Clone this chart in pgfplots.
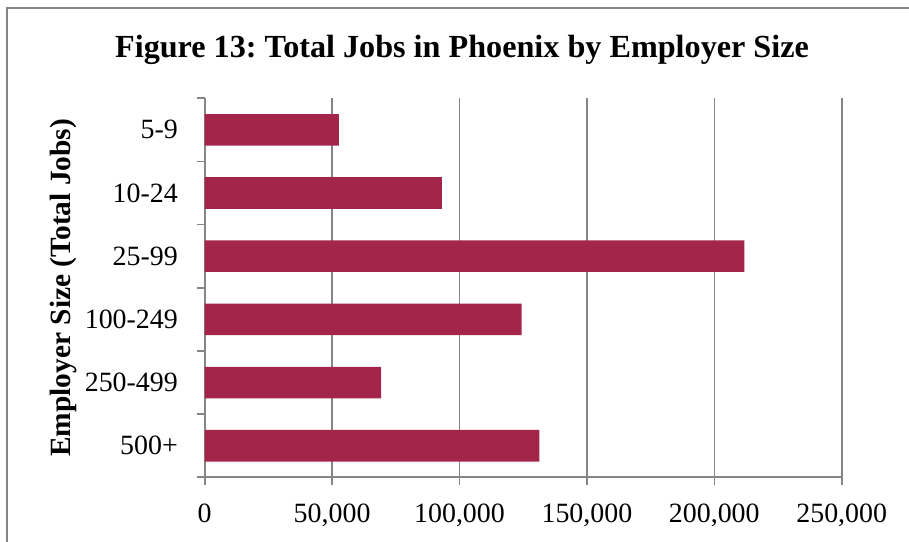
\documentclass[border=0pt]{standalone}
\usepackage{pgfplots}
\pgfplotsset{compat=1.18}
\usepackage{fontspec}
\setmainfont{Liberation Serif}
\definecolor{barc}{RGB}{163,38,74}
\definecolor{gridc}{RGB}{134,134,134}
\frenchspacing
\begin{document}
\begin{tikzpicture}[x=1bp,y=1bp]
\useasboundingbox (0,0) rectangle (909,542);
\draw[gridc, line width=1.5bp] (7,0) -- (7,534) -- (909,534);
\node[font=\fontsize{32.3}{38}\selectfont\bfseries, anchor=base] at (462,484.7) {Figure 13: Total Jobs in Phoenix by Employer Size};
\begin{axis}[
  at={(204.7bp,64.7bp)}, anchor=south west,
  width=637bp, height=379bp, scale only axis,
  xbar, bar width=0.5,
  xmin=0, xmax=250000, ymin=-0.5, ymax=5.5,
  xtick={0,50000,100000,150000,200000,250000},
  xticklabels={0,{50,000},{100,000},{150,000},{200,000},{250,000}},
  ytick={0,1,2,3,4,5},
  yticklabels={500+,250-499,100-249,25-99,10-24,5-9},
  minor ytick={-0.5,0.5,1.5,2.5,3.5,4.5,5.5},
  xmajorgrids, grid style={gridc, line width=1.6bp},
  axis x line*=bottom, axis y line*=left,
  axis line style={gridc, line width=1.6bp, -},
  x axis line style={-}, y axis line style={-},
  tick align=outside,
  major tick length=8bp, minor tick length=8bp,
  every major y tick/.append style={draw=none},
  every minor y tick/.append style={gridc, line width=1.6bp},
  every major x tick/.append style={gridc, line width=1.6bp},
  scaled x ticks=false,
  tick label style={font=\fontsize{28}{33}\selectfont},
  xticklabel style={inner sep=0pt, yshift=-18bp},
  yticklabel style={inner sep=0pt, xshift=-18.7bp},
  ylabel={Employer Size (Total Jobs)},
  label style={font=\fontsize{29.5}{34}\selectfont\bfseries},
  ylabel style={yshift=4bp},
]
\addplot[fill=barc, draw=none] coordinates {(131300,0) (69200,1) (124400,2) (211800,3) (93100,4) (52700,5)};
\end{axis}
\end{tikzpicture}
\end{document}
